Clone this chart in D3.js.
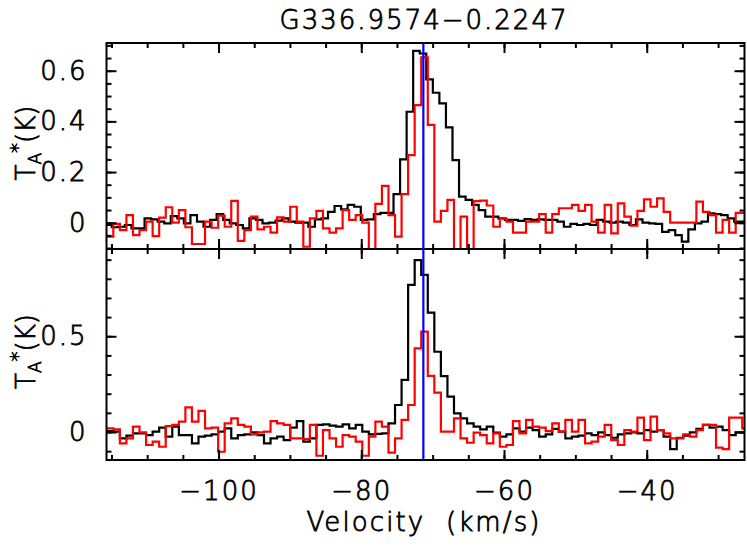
<!DOCTYPE html>
<html><head><meta charset="utf-8">
<script src="https://cdn.jsdelivr.net/npm/d3@7"></script>
<style>body{margin:0;background:#fff}svg{display:block}
svg text{stroke:#000;stroke-width:0.8px;paint-order:stroke}</style>
</head><body>
<svg id="c" width="747" height="546"></svg>
<script>
// ---------------- data ----------------
const title = "G336.9574\u22120.2247";
const xLabel = "Velocity  (km/s)";
const xRange = [-115.7, -26.3];
const topRange = [-0.1038, 0.7094];
const bottomRange = [-0.1462, 0.9556];
const xTicks = [-100, -80, -60, -40];
const topYTicks = [0, 0.2, 0.4, 0.6];
const bottomYTicks = [0, 0.5];
const sourceVelocity = -71.3;
const chanStart = -116.58;        // left edge of first channel (km/s)
const chanStartTopBlack = -116.79;
const chanWidth = 0.918;

const topBlack = [0.000,-0.009,-0.018,-0.016,-0.009,-0.022,-0.022,0.017,0.013,0.004,
 -0.003,0.026,0.017,-0.003,0.030,0.004,-0.016,0.011,0.034,0.011,
 -0.003,-0.009,-0.022,0.017,0.011,-0.003,0.000,0.008,0.017,0.004,
 0.000,0.000,-0.016,0.013,0.017,0.043,0.066,0.053,0.070,0.063,
 0.011,0.013,0.034,0.039,0.039,0.113,0.250,0.438,0.678,0.668,
 0.566,0.513,0.471,0.376,0.247,0.103,0.090,0.070,0.050,0.024,
 0.024,0.017,0.011,0.011,0.007,0.014,0.011,0.013,0.011,0.011,
 0.004,-0.016,-0.005,-0.009,-0.005,-0.009,0.011,0.004,0.000,0.004,
 0.000,-0.009,0.013,0.000,-0.003,-0.005,-0.036,-0.029,-0.049,-0.075,
 -0.026,-0.003,0.004,0.037,0.034,0.030,0.017,0.004,0.004];

const topRed = [-0.055,-0.055,-0.005,-0.029,0.030,-0.049,-0.029,0.004,-0.053,0.020,
 0.061,0.000,0.050,-0.018,-0.084,-0.084,0.004,-0.020,0.028,-0.016,
 0.086,-0.072,-0.029,0.024,-0.026,-0.016,-0.039,0.021,0.004,0.063,
 0.004,-0.095,0.017,0.047,-0.022,-0.039,-0.022,0.050,0.011,0.030,
 0.000,-0.160,0.074,0.145,0.030,-0.055,0.113,0.267,0.464,0.653,
 0.386,0.004,0.047,0.090,-0.160,0.024,-0.150,0.085,0.087,0.068,
 -0.016,0.017,0.004,-0.039,-0.039,0.004,0.004,0.034,-0.039,0.034,
 0.057,0.057,0.070,0.047,0.070,0.004,-0.039,0.070,-0.042,0.076,
 0.024,-0.012,0.047,0.092,0.063,0.096,0.043,0.000,0.000,0.000,
 0.000,0.083,0.043,0.030,-0.039,0.011,-0.039,0.039,0.039];

const bottomBlack = [0.002,0.005,0.002,-0.033,-0.019,-0.007,-0.007,-0.016,0.002,0.023,
 -0.024,0.028,-0.016,-0.016,-0.059,-0.024,-0.019,-0.012,0.002,0.019,
 -0.033,-0.016,-0.012,-0.002,-0.016,-0.059,-0.033,-0.024,-0.042,0.023,
 0.057,-0.050,-0.033,0.037,0.040,0.033,0.028,0.040,0.019,0.037,
 0.002,-0.012,-0.010,-0.007,0.045,0.141,0.272,0.768,0.898,0.820,
 0.623,0.419,0.292,0.185,0.097,0.071,0.045,0.028,0.014,0.028,
 -0.003,-0.024,-0.012,0.019,0.002,0.023,0.010,-0.024,-0.012,0.016,
 0.002,-0.033,-0.024,-0.019,-0.007,-0.016,-0.002,-0.016,-0.030,-0.012,
 -0.007,-0.002,-0.007,0.010,0.002,0.010,-0.024,-0.089,-0.030,-0.019,
 -0.002,0.016,0.037,0.023,0.028,0.010,-0.016,-0.002,-0.002];

const bottomRed = [0.019,0.019,0.014,-0.059,-0.033,0.028,-0.002,-0.068,-0.050,-0.077,
 0.031,0.037,0.054,0.129,0.054,0.110,0.019,0.023,-0.103,0.045,
 0.071,0.037,0.028,-0.012,-0.002,0.002,0.057,0.045,0.037,-0.033,
 -0.033,-0.037,0.037,-0.124,0.010,-0.033,-0.077,-0.016,-0.024,-0.050,
 -0.124,-0.024,0.054,0.028,-0.108,-0.033,0.063,0.141,0.437,0.524,
 0.293,0.206,0.002,0.002,0.071,-0.033,-0.056,-0.003,-0.016,-0.059,
 -0.007,-0.077,-0.068,0.057,-0.007,0.063,0.028,0.023,0.005,0.045,
 0.002,0.063,0.002,0.063,-0.059,-0.050,-0.024,0.037,-0.042,-0.068,
 0.010,0.002,0.075,-0.042,0.080,0.010,-0.007,-0.033,-0.033,-0.012,
 -0.024,0.010,0.037,0.037,-0.082,-0.089,0.075,0.075,0.019];

// ---------------- layout ----------------
const L = 106.5, R = 744.5;
const panels = [
  {top: 43, bottom: 249, range: topRange, ticks: topYTicks, minorStep: 0.05,
   series: [{vals: topBlack, start: chanStartTopBlack, color: "#000"},
            {vals: topRed, start: chanStart, color: "#ff0000"}]},
  {top: 249, bottom: 460, range: bottomRange, ticks: bottomYTicks, minorStep: 0.1,
   series: [{vals: bottomBlack, start: chanStart, color: "#000"},
            {vals: bottomRed, start: chanStart, color: "#ff0000"}]}
];
const FONT = "DejaVu Sans";
const WEIGHT = 200;
const svg = d3.select("#c");
const x = d3.scaleLinear().domain(xRange).range([L, R]);
const fmt = v => (v < 0 ? "\u2212" : "") + String(Math.abs(+v.toFixed(2)));
const xMinor = d3.range(-115, -26, 5);

function stepData(vals, start) {
  const pts = vals.map((t, i) => ({v: start + i * chanWidth, t}));
  pts.push({v: start + vals.length * chanWidth, t: vals[vals.length - 1]});
  return pts;
}

function styleAxis(g) {
  g.select(".domain").remove();
  g.selectAll(".tick line").attr("stroke", "#000").attr("stroke-width", 2);
  g.selectAll("text").attr("font-family", FONT).attr("font-size", 26).attr("font-weight", WEIGHT)
    .attr("fill", "#000").attr("letter-spacing", 2);
}

panels.forEach((p, pi) => {
  const y = d3.scaleLinear().domain(p.range).range([p.bottom, p.top]);
  const yMinor = d3.range(Math.ceil(p.range[0] / p.minorStep) * p.minorStep, p.range[1], p.minorStep)
    .map(v => +v.toFixed(3));
  const clipId = "clip" + pi;
  svg.append("clipPath").attr("id", clipId).append("rect")
    .attr("x", L).attr("y", p.top).attr("width", R - L).attr("height", p.bottom - p.top);

  const plot = svg.append("g").attr("clip-path", `url(#${clipId})`);
  const line = d3.line().x(d => x(d.v)).y(d => y(d.t)).curve(d3.curveStepAfter);
  p.series.forEach(s => {
    plot.append("path").datum(stepData(s.vals, s.start))
      .attr("d", line).attr("fill", "none").attr("stroke", s.color)
      .attr("stroke-width", 2.2).attr("stroke-linejoin", "miter");
  });

  // x ticks (inward) on top and bottom edge of panel
  [["top", p.top, d3.axisTop], ["bottom", p.bottom, d3.axisBottom]].forEach(([side, yy, ax]) => {
    svg.append("g").attr("transform", `translate(0,${yy})`)
      .call(ax(x).tickValues(xMinor).tickSize(-5).tickFormat("")).call(styleAxis);
    const showLab = pi === 1 && side === "bottom";
    svg.append("g").attr("transform", `translate(0,${yy})`)
      .call(ax(x).tickValues(xTicks).tickSize(-10).tickPadding(22)
        .tickFormat(showLab ? fmt : "")).call(styleAxis);
  });
  // y ticks (inward) on left and right
  svg.append("g").attr("transform", `translate(${L},0)`)
    .call(d3.axisLeft(y).tickValues(yMinor).tickSize(-5).tickFormat("")).call(styleAxis);
  svg.append("g").attr("transform", `translate(${L},0)`)
    .call(d3.axisLeft(y).tickValues(p.ticks).tickSize(-10).tickPadding(19).tickFormat(fmt)).call(styleAxis);
  svg.append("g").attr("transform", `translate(${R},0)`)
    .call(d3.axisRight(y).tickValues(yMinor).tickSize(-5).tickFormat("")).call(styleAxis);
  svg.append("g").attr("transform", `translate(${R},0)`)
    .call(d3.axisRight(y).tickValues(p.ticks).tickSize(-10).tickFormat("")).call(styleAxis);

  // y label
  const cy = (p.top + p.bottom) / 2 - 3;
  const lab = svg.append("text").attr("transform", `translate(35,${cy}) rotate(-90)`)
    .attr("text-anchor", "middle").attr("font-family", FONT).attr("font-weight", WEIGHT)
    .attr("font-size", 26).attr("fill", "#000");
  lab.append("tspan").text("T");
  lab.append("tspan").attr("font-size", 17).attr("dy", 6).text("A");
  lab.append("tspan").attr("font-size", 20).attr("dy", -17).text("*");
  lab.append("tspan").attr("dy", 11).text("(K)");
});

// frames
svg.append("rect").attr("x", L).attr("y", 43).attr("width", R - L).attr("height", 460 - 43)
  .attr("fill", "none").attr("stroke", "#000").attr("stroke-width", 2);
svg.append("line").attr("x1", L).attr("x2", R).attr("y1", 249).attr("y2", 249)
  .attr("stroke", "#000").attr("stroke-width", 2);

// source velocity marker
svg.append("line").attr("x1", x(sourceVelocity)).attr("x2", x(sourceVelocity))
  .attr("y1", 43).attr("y2", 460).attr("stroke", "#0000ff").attr("stroke-width", 2.2);

// title and x label
svg.append("text").attr("x", 424).attr("y", 29).attr("text-anchor", "middle")
  .attr("font-family", FONT).attr("font-weight", WEIGHT).attr("font-size", 26)
  .attr("letter-spacing", 2).text(title);
svg.append("text").attr("x", 424).attr("y", 531).attr("text-anchor", "middle")
  .attr("font-family", FONT).attr("font-weight", WEIGHT).attr("font-size", 26).attr("letter-spacing", 2.1)
  .attr("xml:space", "preserve").style("white-space", "pre").text(xLabel);
</script>
</body></html>
